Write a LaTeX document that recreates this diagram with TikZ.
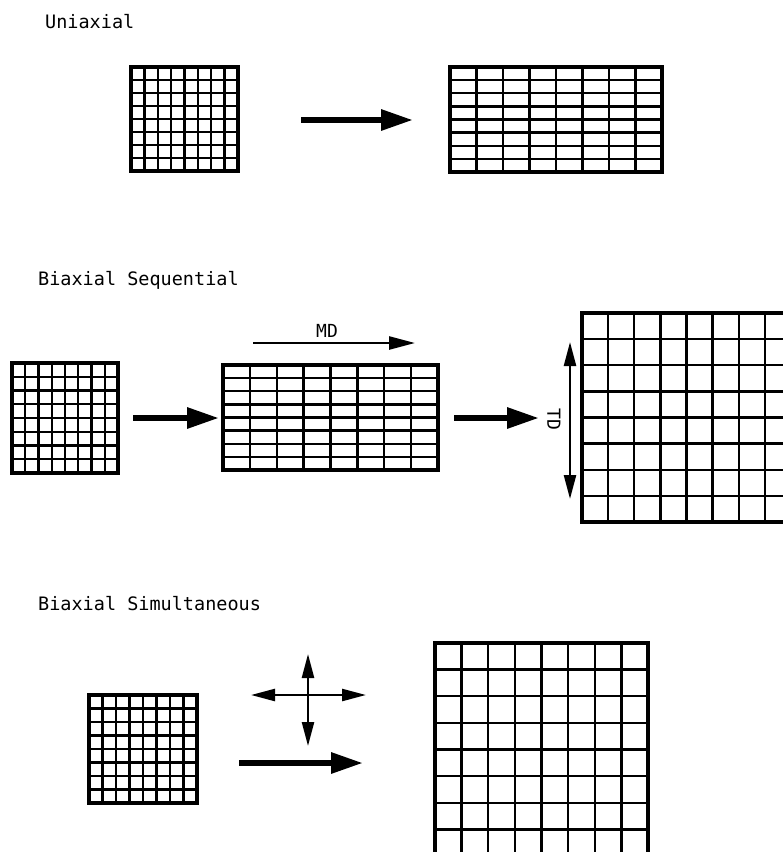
\documentclass[tikz,border=0pt]{standalone}
\usepackage{fontspec}
\setmonofont{DejaVu Sans Mono}
\usetikzlibrary{arrows.meta,calc}

\tikzset{
  % square mesh of 8 x 8 cells drawn inside a framed node
  film/.style={draw, line width=3.4pt, inner sep=0pt, outer sep=0pt,
    anchor=north west,
    path picture={
      \foreach \k in {1,...,7}{
        \draw[line width=2.4pt]
          ($(path picture bounding box.north west)!\k/8!(path picture bounding box.north east)$) --
          ($(path picture bounding box.south west)!\k/8!(path picture bounding box.south east)$);
        \draw[line width=2.4pt]
          ($(path picture bounding box.north west)!\k/8!(path picture bounding box.south west)$) --
          ($(path picture bounding box.north east)!\k/8!(path picture bounding box.south east)$);
      }}},
  heading/.style={anchor=base west, inner sep=0pt,
    font=\ttfamily\fontsize{18.5}{20}\selectfont},
  axislabel/.style={inner sep=0pt, font=\ttfamily\fontsize{18}{19}\selectfont},
  stretch/.style={line width=6pt, -{Triangle[length=32pt,width=20pt]}},
  direction/.style={line width=2.6pt, -{Triangle[length=26pt,width=13pt]}},
  bidirection/.style={line width=2.4pt,
    {Triangle[length=24pt,width=12pt]}-{Triangle[length=24pt,width=12pt]}},
}

\begin{document}
\begin{tikzpicture}[x=1pt, y=-1pt]
\useasboundingbox (0,0) rectangle (783,852);
\clip (0,0) rectangle (783,852);

% ---------- Uniaxial ----------
\node[heading] (tUni) at (45,28) {Uniaxial};
\node[film, minimum width=107pt, minimum height=104pt] (u1) at (131,67) {};
\node[film, minimum width=212pt, minimum height=105pt] (u2) at (450,67) {};
\coordinate (ua) at (301,120);
\coordinate (ub) at (413,120);
\draw[stretch] (ua) -- (ub);

% ---------- Biaxial Sequential ----------
\node[heading] (tSeq) at (38,285) {Biaxial Sequential};
\node[film, minimum width=106pt, minimum height=110pt] (s1) at (12,363) {};
\node[film, minimum width=215pt, minimum height=105pt] (s2) at (223,365) {};
\node[film, minimum width=209pt, minimum height=209pt] (s3) at (582,313) {};
\coordinate (sa) at (133,418);
\coordinate (sb) at (219,418);
\draw[stretch] (sa) -- (sb);
\coordinate (sc) at (454,418);
\coordinate (sd) at (539,418);
\draw[stretch] (sc) -- (sd);
% machine direction
\coordinate (mdA) at (253,343);
\coordinate (mdB) at (415,343);
\draw[direction] (mdA) -- (mdB);
\node[axislabel] (md) at (327,331) {MD};
% transverse direction
\coordinate (tdA) at (570,342);
\coordinate (tdB) at (570,499);
\draw[bidirection] (tdA) -- (tdB);
\node[axislabel, rotate=-90] (td) at (554,419) {TD};

% ---------- Biaxial Simultaneous ----------
\node[heading] (tSim) at (38,610) {Biaxial Simultaneous};
\node[film, minimum width=108pt, minimum height=108pt] (m1) at (89,695) {};
\node[film, minimum width=213pt, minimum height=213pt] (m2) at (435,643) {};
\coordinate (cxA) at (251,695);
\coordinate (cxB) at (366,695);
\coordinate (cyA) at (308,654);
\coordinate (cyB) at (308,746);
\draw[bidirection] (cxA) -- (cxB);
\draw[bidirection] (cyA) -- (cyB);
\coordinate (ma) at (239,763);
\coordinate (mb) at (363,763);
\draw[stretch] (ma) -- (mb);
\end{tikzpicture}
\end{document}
